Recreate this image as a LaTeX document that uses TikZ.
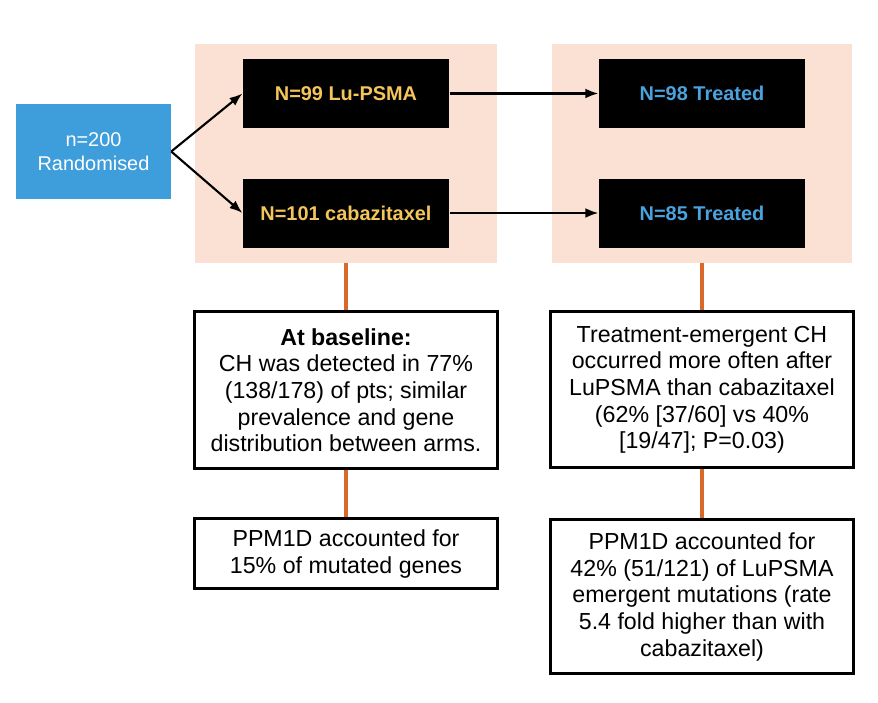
\documentclass[tikz,border=0pt]{standalone}
\usepackage{fontspec}
\setmainfont{Liberation Sans}
\definecolor{PanelPeach}{HTML}{FBE1D3}
\definecolor{RandBlue}{HTML}{3E9DDB}
\definecolor{ArmGold}{HTML}{F3C55A}
\definecolor{TreatBlue}{HTML}{4AA3DF}
\definecolor{LinkOrange}{HTML}{D8692A}
\usepackage{tikz}
\usetikzlibrary{arrows.meta,positioning}

\begin{document}
\begin{tikzpicture}[x=0.03cm,y=-0.03cm,>=Latex,node distance=1.41cm]
\tikzstyle{panel}=[fill=PanelPeach,minimum width=9.06cm,minimum height=6.57cm,inner sep=0pt]
\tikzstyle{armblk}=[fill=black,minimum width=6.2cm,minimum height=2.07cm,font=\fontsize{17}{20}\selectfont\bfseries]
\tikzstyle{notebox}=[draw,line width=2.6pt,fill=white,align=center,minimum width=9.09cm,inner sep=2pt,font=\fontsize{19.8}{22.8}\selectfont]
\tikzstyle{link}=[draw=LinkOrange,line width=3.2pt]
\tikzstyle{arr}=[->,line width=1.8pt]
\useasboundingbox (0,0) rectangle (878,702);
\node[panel] (panL) at (346,153.5) {};
\node[panel,minimum width=9.0cm] (panR) at (702,153.5) {};
\node[fill=RandBlue,text=white,minimum width=4.65cm,minimum height=2.85cm,align=center,font=\fontsize{17}{21}\selectfont] (rand) at (93.5,151.5) {n=200\\Randomised};
\node[armblk,text=ArmGold] (lu) at (346,93.5) {N=99 Lu-PSMA};
\node[armblk,text=ArmGold] (cab) at (346,213) {N=101 cabazitaxel};
\node[armblk,text=TreatBlue] (trlu) at (702,93.5) {N=98 Treated};
\node[armblk,text=TreatBlue] (trcab) at (702,213) {N=85 Treated};
\node[notebox,minimum height=4.71cm,below=of panL] (base) {\textbf{At baseline:}\\CH was detected in 77\%\\(138/178) of pts; similar\\prevalence and gene\\distribution between arms.};
\node[notebox,minimum height=2.1cm,below=of base] (ppmL) {PPM1D accounted for\\15\% of mutated genes};
\node[notebox,minimum height=4.68cm,below=of panR] (emerg) {Treatment-emergent CH\\occurred more often after\\LuPSMA than cabazitaxel\\(62\% [37/60] vs 40\%\\{[19/47]}; P=0.03)};
\node[notebox,minimum height=4.62cm,below=1.47cm of emerg] (ppmR) {PPM1D accounted for\\42\% (51/121) of LuPSMA\\emergent mutations (rate\\5.4 fold higher than with\\cabazitaxel)};
% arms
\draw[arr] (rand.east) -- (lu.west);
\draw[arr] (rand.east) -- (cab.west);
\draw[arr] (lu) -- (trlu);
\draw[arr] (cab) -- (trcab);
% findings
\draw[link] (panL.south) -- (base.north);
\draw[link] (base.south) -- (ppmL.north);
\draw[link] (panR.south) -- (emerg.north);
\draw[link] (emerg.south) -- (ppmR.north);
\end{tikzpicture}
\end{document}
